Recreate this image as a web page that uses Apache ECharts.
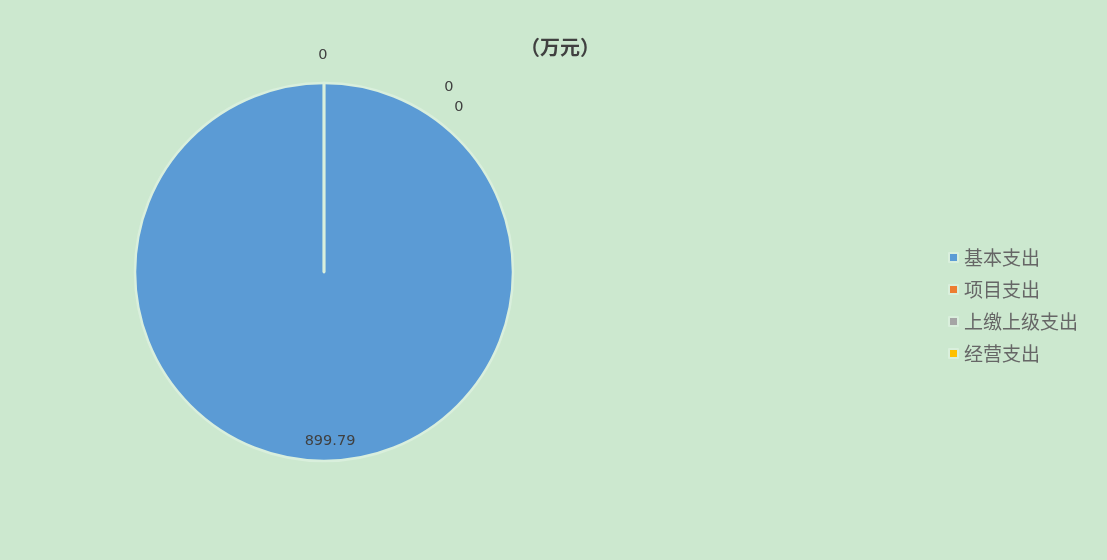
<!DOCTYPE html>
<html><head><meta charset="utf-8">
<script src="https://cdn.jsdelivr.net/npm/echarts@6/dist/echarts.min.js"></script>
<style>html,body{margin:0;padding:0;background:#cce8cf;}#c{width:1107px;height:560px;}</style>
</head><body><div id="c"></div>
<script>
const categories = ['基本支出', '项目支出', '上缴上级支出', '经营支出'];
const values = [899.79, 0, 0, 0];
const colors = ['#5b9bd5', '#ed7d31', '#a5a5a5', '#ffc000'];
const titleText = '（万元）';

const chart = echarts.init(document.getElementById('c'));
chart.setOption({
  backgroundColor: '#cce8cf',
  animation: false,
  title: {
    text: titleText, left: 515, top: 32,
    textStyle: {fontSize: 20, fontWeight: 'bold', color: '#404040', fontFamily: 'Noto Sans CJK SC'}
  },
  legend: {
    orient: 'vertical', left: 943, top: 243, itemWidth: 9, itemHeight: 9, itemGap: 13,
    icon: 'rect',
    textStyle: {fontSize: 19, color: '#666666', fontFamily: 'Noto Sans CJK SC', padding: [0, 0, 0, 1]},
    data: categories
  },
  series: [{
    type: 'pie',
    center: [324, 272],
    radius: 189,
    startAngle: 90,
    clockwise: true,
    avoidLabelOverlap: false,
    stillShowZeroSum: true,
    itemStyle: {borderColor: '#d9efdc', borderWidth: 2.5},
    label: {
      show: true, position: 'outside', formatter: '{c}',
      fontSize: 14.5, color: '#404040', fontFamily: 'DejaVu Sans'
    },
    labelLine: {show: false},
    emphasis: {disabled: true},
    labelLayout: function (p) {
      const r = p.rect;
      if (p.dataIndex === 0) {
        return {x: r.x + r.width / 2 + 6, y: r.y + r.height - 21, align: 'center', verticalAlign: 'middle'};
      }
      const offs = {1: [0, -27], 2: [126, 5], 3: [136, 25]}[p.dataIndex];
      return {x: r.x + offs[0], y: r.y + offs[1], align: 'center', verticalAlign: 'middle'};
    },
    data: categories.map((n, i) => ({name: n, value: values[i], itemStyle: {color: colors[i]}}))
  }]
});
</script></body></html>
